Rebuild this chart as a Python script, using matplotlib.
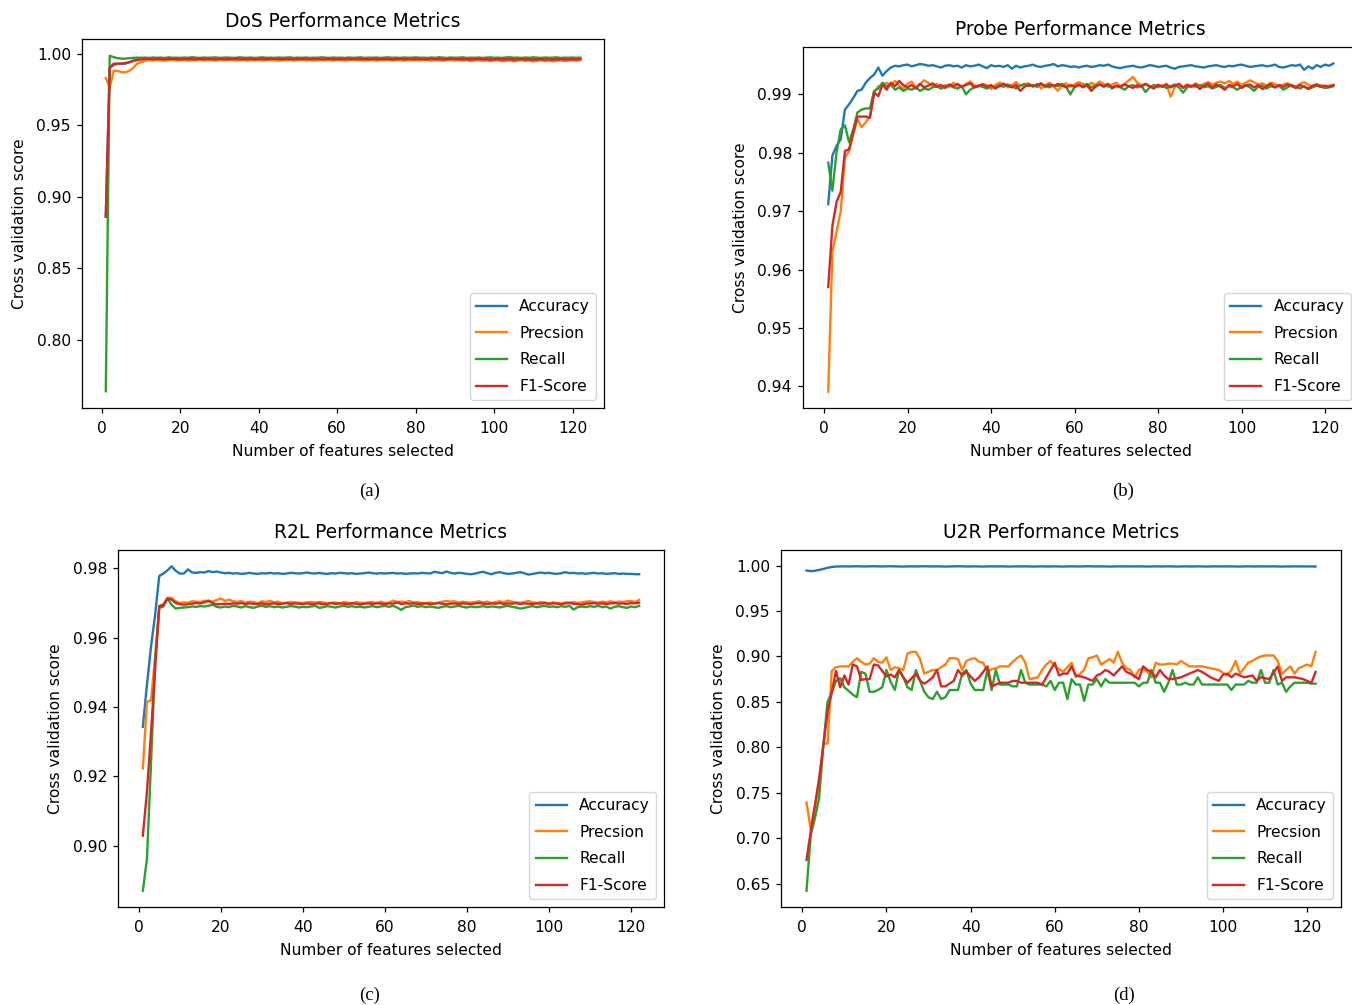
import matplotlib.pyplot as plt
from matplotlib.ticker import MultipleLocator

# --- data: number of features selected vs cross validation score ---
features = list(range(1, 123))
metric_names = ["Accuracy", "Precsion", "Recall", "F1-Score"]
panel_titles = ["DoS Performance Metrics", "Probe Performance Metrics",
                "R2L Performance Metrics", "U2R Performance Metrics"]
panel_tags = ["(a)", "(b)", "(c)", "(d)"]

# DoS
dos_accuracy = [0.886, 0.990, 0.992, 0.993, 0.993, 0.993, 0.994, 0.995, 0.9958, 0.9962,
                0.9964, 0.9966, 0.9965, 0.9967, 0.9966, 0.9965, 0.9967, 0.9966, 0.9968, 0.9966,
                0.9965, 0.9966, 0.9967, 0.9966, 0.9965, 0.9966, 0.9967, 0.9968, 0.9966, 0.9965,
                0.9966, 0.9967, 0.9966, 0.9965, 0.9966, 0.9967, 0.9966, 0.9966, 0.9965, 0.9967,
                0.9966, 0.9965, 0.9966, 0.9967, 0.9966, 0.9965, 0.9966, 0.9967, 0.9966, 0.9965,
                0.9966, 0.9967, 0.9965, 0.9966, 0.9967, 0.9966, 0.9965, 0.9966, 0.9967, 0.9966,
                0.9965, 0.9966, 0.9967, 0.9966, 0.9965, 0.9966, 0.9966, 0.9967, 0.9966, 0.9965,
                0.9966, 0.9967, 0.9966, 0.9965, 0.9966, 0.9967, 0.9966, 0.9965, 0.9966, 0.9967,
                0.9966, 0.9965, 0.9966, 0.9966, 0.9967, 0.9965, 0.9966, 0.9967, 0.9966, 0.9965,
                0.9966, 0.9967, 0.9966, 0.9964, 0.9965, 0.9966, 0.9967, 0.9965, 0.9966, 0.9964,
                0.9965, 0.9966, 0.9965, 0.9964, 0.9966, 0.9965, 0.9966, 0.9964, 0.9965, 0.9966,
                0.9965, 0.9964, 0.9966, 0.9965, 0.9964, 0.9966, 0.9965, 0.9964, 0.9966, 0.9965,
                0.9966, 0.9966]
dos_precision = [0.983, 0.976, 0.988, 0.988, 0.987, 0.987, 0.988, 0.990, 0.993, 0.994,
                 0.9950, 0.9955, 0.9952, 0.9956, 0.9953, 0.9950, 0.9955, 0.9957, 0.9952, 0.9954,
                 0.9956, 0.9951, 0.9955, 0.9953, 0.9957, 0.9952, 0.9955, 0.9954, 0.9951, 0.9956,
                 0.9953, 0.9955, 0.9957, 0.9952, 0.9954, 0.9956, 0.9951, 0.9955, 0.9953, 0.9956,
                 0.9952, 0.9955, 0.9957, 0.9953, 0.9951, 0.9955, 0.9954, 0.9956, 0.9952, 0.9955,
                 0.9957, 0.9953, 0.9955, 0.9951, 0.9954, 0.9956, 0.9953, 0.9955, 0.9952, 0.9956,
                 0.9954, 0.9951, 0.9955, 0.9957, 0.9953, 0.9955, 0.9952, 0.9954, 0.9956, 0.9951,
                 0.9955, 0.9953, 0.9956, 0.9952, 0.9954, 0.9955, 0.9951, 0.9956, 0.9953, 0.9955,
                 0.9952, 0.9956, 0.9954, 0.9951, 0.9955, 0.9953, 0.9950, 0.9954, 0.9956, 0.9952,
                 0.9955, 0.9951, 0.9954, 0.9948, 0.9952, 0.9955, 0.9950, 0.9953, 0.9947, 0.9952,
                 0.9954, 0.9946, 0.9950, 0.9953, 0.9945, 0.9951, 0.9954, 0.9949, 0.9952, 0.9944,
                 0.9950, 0.9953, 0.9947, 0.9951, 0.9945, 0.9950, 0.9953, 0.9948, 0.9951, 0.9953,
                 0.9950, 0.9955]
dos_recall = [0.764, 0.9985, 0.9975, 0.9968, 0.9965, 0.9965, 0.9968, 0.9970, 0.9972, 0.9971,
              0.9972, 0.9970, 0.9973, 0.9971, 0.9972, 0.9970, 0.9974, 0.9971, 0.9972, 0.9970,
              0.9973, 0.9971, 0.9975, 0.9972, 0.9970, 0.9973, 0.9971, 0.9972, 0.9974, 0.9970,
              0.9972, 0.9973, 0.9971, 0.9970, 0.9974, 0.9972, 0.9971, 0.9973, 0.9970, 0.9972,
              0.9974, 0.9971, 0.9972, 0.9970, 0.9973, 0.9971, 0.9972, 0.9974, 0.9970, 0.9972,
              0.9971, 0.9973, 0.9970, 0.9972, 0.9971, 0.9974, 0.9972, 0.9970, 0.9973, 0.9971,
              0.9972, 0.9970, 0.9973, 0.9971, 0.9972, 0.9974, 0.9970, 0.9972, 0.9971, 0.9973,
              0.9970, 0.9972, 0.9974, 0.9971, 0.9972, 0.9970, 0.9973, 0.9971, 0.9972, 0.9974,
              0.9971, 0.9972, 0.9970, 0.9973, 0.9971, 0.9975, 0.9972, 0.9970, 0.9973, 0.9971,
              0.9972, 0.9974, 0.9970, 0.9972, 0.9971, 0.9973, 0.9970, 0.9972, 0.9974, 0.9971,
              0.9972, 0.9970, 0.9973, 0.9975, 0.9971, 0.9972, 0.9970, 0.9973, 0.9971, 0.9974,
              0.9972, 0.9970, 0.9973, 0.9971, 0.9972, 0.9974, 0.9970, 0.9972, 0.9971, 0.9973,
              0.9971, 0.9972]
dos_f1 = [0.886, 0.990, 0.993, 0.993, 0.993, 0.9935, 0.994, 0.995, 0.9955, 0.996,
          0.9962, 0.9963, 0.9961, 0.9964, 0.9962, 0.9961, 0.9963, 0.9964, 0.9962, 0.9960,
          0.9962, 0.9963, 0.9961, 0.9962, 0.9964, 0.9961, 0.9963, 0.9962, 0.9960, 0.9963,
          0.9962, 0.9961, 0.9963, 0.9964, 0.9962, 0.9961, 0.9963, 0.9962, 0.9960, 0.9962,
          0.9963, 0.9961, 0.9962, 0.9964, 0.9962, 0.9960, 0.9963, 0.9962, 0.9961, 0.9963,
          0.9962, 0.9964, 0.9961, 0.9962, 0.9963, 0.9961, 0.9962, 0.9964, 0.9962, 0.9960,
          0.9962, 0.9963, 0.9961, 0.9962, 0.9963, 0.9961, 0.9962, 0.9960, 0.9963, 0.9962,
          0.9961, 0.9963, 0.9962, 0.9960, 0.9962, 0.9963, 0.9961, 0.9962, 0.9963, 0.9961,
          0.9962, 0.9960, 0.9962, 0.9963, 0.9961, 0.9962, 0.9960, 0.9961, 0.9963, 0.9962,
          0.9960, 0.9961, 0.9962, 0.9959, 0.9961, 0.9962, 0.9960, 0.9961, 0.9958, 0.9960,
          0.9961, 0.9958, 0.9960, 0.9961, 0.9957, 0.9960, 0.9961, 0.9959, 0.9960, 0.9957,
          0.9959, 0.9961, 0.9958, 0.9960, 0.9957, 0.9959, 0.9961, 0.9958, 0.9960, 0.9961,
          0.9959, 0.9961]

# Probe
probe_accuracy = [0.9712, 0.9795, 0.9812, 0.9823, 0.9874, 0.9883, 0.9894, 0.9906, 0.9908, 0.9920,
                  0.9928, 0.9934, 0.9946, 0.9932, 0.9940, 0.9946, 0.9949, 0.9948, 0.9950, 0.9951,
                  0.9948, 0.9950, 0.9952, 0.9951, 0.9949, 0.9950, 0.9948, 0.9946, 0.9949, 0.9950,
                  0.9948, 0.9949, 0.9946, 0.9950, 0.9948, 0.9949, 0.9951, 0.9948, 0.9945, 0.9950,
                  0.9948, 0.9949, 0.9947, 0.9950, 0.9944, 0.9949, 0.9946, 0.9948, 0.9949, 0.9951,
                  0.9948, 0.9947, 0.9949, 0.9950, 0.9952, 0.9948, 0.9950, 0.9949, 0.9947, 0.9948,
                  0.9946, 0.9948, 0.9949, 0.9947, 0.9948, 0.9950, 0.9949, 0.9951, 0.9948, 0.9946,
                  0.9945, 0.9947, 0.9948, 0.9949, 0.9947, 0.9946, 0.9948, 0.9950, 0.9949, 0.9947,
                  0.9948, 0.9949, 0.9946, 0.9944, 0.9947, 0.9948, 0.9949, 0.9950, 0.9948, 0.9947,
                  0.9946, 0.9948, 0.9949, 0.9950, 0.9948, 0.9947, 0.9949, 0.9948, 0.9950, 0.9951,
                  0.9949, 0.9947, 0.9948, 0.9949, 0.9950, 0.9948, 0.9949, 0.9951, 0.9947, 0.9946,
                  0.9948, 0.9950, 0.9949, 0.9951, 0.9942, 0.9948, 0.9944, 0.9950, 0.9947, 0.9951,
                  0.9949, 0.9953]
probe_precision = [0.9391, 0.9630, 0.9665, 0.9700, 0.9792, 0.9803, 0.9832, 0.9857, 0.9844, 0.9852,
                   0.9863, 0.9903, 0.9914, 0.9914, 0.9920, 0.9916, 0.9923, 0.9915, 0.9910, 0.9918,
                   0.9922, 0.9912, 0.9918, 0.9924, 0.9920, 0.9914, 0.9918, 0.9910, 0.9916, 0.9913,
                   0.9920, 0.9915, 0.9912, 0.9918, 0.9922, 0.9916, 0.9913, 0.9918, 0.9916, 0.9909,
                   0.9916, 0.9920, 0.9918, 0.9912, 0.9916, 0.9921, 0.9914, 0.9917, 0.9919, 0.9913,
                   0.9918, 0.9910, 0.9916, 0.9920, 0.9914, 0.9906, 0.9916, 0.9919, 0.9913, 0.9917,
                   0.9921, 0.9918, 0.9914, 0.9920, 0.9916, 0.9922, 0.9918, 0.9913, 0.9917, 0.9920,
                   0.9914, 0.9918, 0.9924, 0.9930, 0.9920, 0.9916, 0.9918, 0.9913, 0.9911, 0.9917,
                   0.9914, 0.9918, 0.9896, 0.9912, 0.9918, 0.9913, 0.9917, 0.9914, 0.9919, 0.9915,
                   0.9918, 0.9921, 0.9917, 0.9920, 0.9922, 0.9919, 0.9923, 0.9918, 0.9922, 0.9916,
                   0.9920, 0.9924, 0.9921, 0.9917, 0.9919, 0.9915, 0.9920, 0.9918, 0.9914, 0.9917,
                   0.9919, 0.9916, 0.9913, 0.9918, 0.9921, 0.9916, 0.9914, 0.9917, 0.9916, 0.9913,
                   0.9915, 0.9916]
probe_recall = [0.9783, 0.9735, 0.9801, 0.9840, 0.9847, 0.9818, 0.9840, 0.9869, 0.9874, 0.9876,
                0.9876, 0.9906, 0.9910, 0.9920, 0.9914, 0.9917, 0.9908, 0.9912, 0.9906, 0.9910,
                0.9908, 0.9912, 0.9906, 0.9910, 0.9908, 0.9912, 0.9914, 0.9910, 0.9913, 0.9916,
                0.9912, 0.9910, 0.9914, 0.9900, 0.9908, 0.9912, 0.9915, 0.9913, 0.9910, 0.9914,
                0.9912, 0.9916, 0.9913, 0.9917, 0.9914, 0.9910, 0.9915, 0.9918, 0.9914, 0.9916,
                0.9913, 0.9917, 0.9915, 0.9912, 0.9916, 0.9914, 0.9918, 0.9913, 0.9900, 0.9912,
                0.9916, 0.9914, 0.9918, 0.9912, 0.9915, 0.9917, 0.9913, 0.9916, 0.9910, 0.9914,
                0.9912, 0.9908, 0.9914, 0.9916, 0.9912, 0.9915, 0.9904, 0.9912, 0.9916, 0.9913,
                0.9915, 0.9911, 0.9914, 0.9917, 0.9912, 0.9903, 0.9912, 0.9915, 0.9913, 0.9916,
                0.9912, 0.9914, 0.9910, 0.9913, 0.9916, 0.9911, 0.9914, 0.9912, 0.9908, 0.9913,
                0.9916, 0.9912, 0.9906, 0.9913, 0.9915, 0.9910, 0.9914, 0.9912, 0.9915, 0.9908,
                0.9912, 0.9916, 0.9913, 0.9910, 0.9914, 0.9909, 0.9912, 0.9915, 0.9913, 0.9911,
                0.9912, 0.9914]
probe_f1 = [0.9570, 0.9675, 0.9716, 0.9733, 0.9803, 0.9806, 0.9835, 0.9862, 0.9862, 0.9862,
            0.9860, 0.9903, 0.9897, 0.9917, 0.9908, 0.9920, 0.9914, 0.9923, 0.9916, 0.9912,
            0.9916, 0.9910, 0.9918, 0.9912, 0.9915, 0.9919, 0.9913, 0.9916, 0.9911, 0.9917,
            0.9914, 0.9918, 0.9913, 0.9916, 0.9919, 0.9912, 0.9915, 0.9917, 0.9913, 0.9916,
            0.9910, 0.9914, 0.9918, 0.9915, 0.9912, 0.9916, 0.9906, 0.9913, 0.9917, 0.9914,
            0.9916, 0.9919, 0.9913, 0.9917, 0.9914, 0.9918, 0.9915, 0.9912, 0.9916, 0.9913,
            0.9917, 0.9912, 0.9916, 0.9906, 0.9913, 0.9917, 0.9914, 0.9918, 0.9912, 0.9915,
            0.9913, 0.9917, 0.9914, 0.9911, 0.9916, 0.9913, 0.9918, 0.9914, 0.9910, 0.9916,
            0.9913, 0.9917, 0.9912, 0.9915, 0.9918, 0.9911, 0.9916, 0.9913, 0.9917, 0.9909,
            0.9915, 0.9918, 0.9912, 0.9917, 0.9913, 0.9908, 0.9916, 0.9914, 0.9918, 0.9911,
            0.9915, 0.9917, 0.9912, 0.9916, 0.9909, 0.9914, 0.9918, 0.9912, 0.9916, 0.9913,
            0.9917, 0.9914, 0.9911, 0.9916, 0.9913, 0.9910, 0.9915, 0.9917, 0.9913, 0.9915,
            0.9913, 0.9916]

# R2L
r2l_accuracy = [0.9343, 0.9464, 0.9575, 0.9667, 0.9778, 0.9785, 0.9794, 0.9806, 0.9793, 0.9785,
                0.9785, 0.9797, 0.9788, 0.9787, 0.9789, 0.9788, 0.9792, 0.9789, 0.9791, 0.9788,
                0.9786, 0.9787, 0.9785, 0.9786, 0.9784, 0.9785, 0.9787, 0.9785, 0.9784, 0.9786,
                0.9785, 0.9787, 0.9785, 0.9786, 0.9784, 0.9785, 0.9787, 0.9786, 0.9785, 0.9786,
                0.9788, 0.9786, 0.9785, 0.9787, 0.9785, 0.9784, 0.9786, 0.9785, 0.9787, 0.9786,
                0.9785, 0.9786, 0.9784, 0.9785, 0.9786, 0.9788, 0.9786, 0.9785, 0.9786, 0.9785,
                0.9786, 0.9787, 0.9785, 0.9786, 0.9784, 0.9785, 0.9786, 0.9785, 0.9787, 0.9786,
                0.9785, 0.9790, 0.9788, 0.9786, 0.9791, 0.9787, 0.9785, 0.9787, 0.9786, 0.9784,
                0.9783, 0.9785, 0.9788, 0.9790, 0.9786, 0.9783, 0.9787, 0.9789, 0.9786, 0.9784,
                0.9785, 0.9787, 0.9789, 0.9786, 0.9782, 0.9784, 0.9786, 0.9788, 0.9786, 0.9787,
                0.9785, 0.9784, 0.9786, 0.9789, 0.9786, 0.9787, 0.9785, 0.9786, 0.9784, 0.9786,
                0.9787, 0.9785, 0.9786, 0.9784, 0.9785, 0.9786, 0.9784, 0.9785, 0.9784, 0.9784,
                0.9783, 0.9783]
r2l_precision = [0.9223, 0.9415, 0.9420, 0.9546, 0.9691, 0.9697, 0.9715, 0.9715, 0.9705, 0.9700,
                 0.9702, 0.9701, 0.9705, 0.9704, 0.9703, 0.9706, 0.9707, 0.9704, 0.9709, 0.9713,
                 0.9706, 0.9710, 0.9705, 0.9703, 0.9706, 0.9701, 0.9704, 0.9703, 0.9699, 0.9705,
                 0.9703, 0.9706, 0.9702, 0.9704, 0.9699, 0.9701, 0.9703, 0.9702, 0.9701, 0.9700,
                 0.9702, 0.9703, 0.9701, 0.9703, 0.9702, 0.9698, 0.9701, 0.9702, 0.9698, 0.9703,
                 0.9701, 0.9699, 0.9703, 0.9701, 0.9700, 0.9702, 0.9703, 0.9699, 0.9704, 0.9700,
                 0.9701, 0.9707, 0.9703, 0.9704, 0.9702, 0.9706, 0.9701, 0.9703, 0.9700, 0.9699,
                 0.9702, 0.9698, 0.9701, 0.9704, 0.9706, 0.9704, 0.9705, 0.9701, 0.9704, 0.9702,
                 0.9701, 0.9703, 0.9705, 0.9702, 0.9704, 0.9700, 0.9703, 0.9705, 0.9702, 0.9707,
                 0.9704, 0.9702, 0.9701, 0.9703, 0.9706, 0.9702, 0.9700, 0.9703, 0.9701, 0.9699,
                 0.9702, 0.9700, 0.9698, 0.9702, 0.9701, 0.9703, 0.9700, 0.9702, 0.9704, 0.9705,
                 0.9703, 0.9701, 0.9704, 0.9702, 0.9705, 0.9702, 0.9704, 0.9703, 0.9705, 0.9706,
                 0.9703, 0.9709]
r2l_recall = [0.8870, 0.8962, 0.9241, 0.9531, 0.9686, 0.9690, 0.9713, 0.9695, 0.9684, 0.9686,
              0.9687, 0.9688, 0.9690, 0.9689, 0.9691, 0.9690, 0.9692, 0.9695, 0.9689, 0.9687,
              0.9690, 0.9688, 0.9692, 0.9690, 0.9687, 0.9691, 0.9688, 0.9686, 0.9690, 0.9692,
              0.9689, 0.9691, 0.9688, 0.9690, 0.9687, 0.9689, 0.9691, 0.9690, 0.9687, 0.9689,
              0.9688, 0.9690, 0.9692, 0.9686, 0.9688, 0.9691, 0.9689, 0.9687, 0.9690, 0.9692,
              0.9689, 0.9691, 0.9688, 0.9690, 0.9687, 0.9689, 0.9691, 0.9688, 0.9690, 0.9692,
              0.9689, 0.9692, 0.9687, 0.9680, 0.9688, 0.9690, 0.9693, 0.9689, 0.9691, 0.9688,
              0.9690, 0.9688, 0.9686, 0.9689, 0.9691, 0.9688, 0.9690, 0.9692, 0.9689, 0.9687,
              0.9690, 0.9688, 0.9689, 0.9691, 0.9688, 0.9690, 0.9689, 0.9687, 0.9690, 0.9692,
              0.9689, 0.9687, 0.9684, 0.9686, 0.9689, 0.9691, 0.9688, 0.9690, 0.9692, 0.9689,
              0.9690, 0.9688, 0.9691, 0.9689, 0.9692, 0.9681, 0.9688, 0.9690, 0.9688, 0.9691,
              0.9689, 0.9692, 0.9688, 0.9690, 0.9684, 0.9689, 0.9691, 0.9688, 0.9686, 0.9690,
              0.9688, 0.9692]
r2l_f1 = [0.9029, 0.9155, 0.9328, 0.9513, 0.9691, 0.9694, 0.9713, 0.9710, 0.9700, 0.9697,
          0.9695, 0.9697, 0.9698, 0.9700, 0.9699, 0.9702, 0.9706, 0.9700, 0.9696, 0.9697,
          0.9698, 0.9697, 0.9699, 0.9698, 0.9700, 0.9697, 0.9699, 0.9698, 0.9697, 0.9699,
          0.9696, 0.9698, 0.9699, 0.9697, 0.9698, 0.9700, 0.9697, 0.9699, 0.9698, 0.9697,
          0.9699, 0.9697, 0.9698, 0.9699, 0.9696, 0.9698, 0.9700, 0.9697, 0.9699, 0.9698,
          0.9697, 0.9699, 0.9698, 0.9696, 0.9698, 0.9699, 0.9697, 0.9700, 0.9698, 0.9697,
          0.9699, 0.9698, 0.9702, 0.9697, 0.9699, 0.9698, 0.9700, 0.9697, 0.9698, 0.9699,
          0.9697, 0.9698, 0.9700, 0.9698, 0.9696, 0.9698, 0.9699, 0.9697, 0.9699, 0.9698,
          0.9697, 0.9699, 0.9700, 0.9698, 0.9697, 0.9699, 0.9698, 0.9700, 0.9697, 0.9699,
          0.9698, 0.9700, 0.9697, 0.9699, 0.9698, 0.9697, 0.9699, 0.9698, 0.9700, 0.9697,
          0.9699, 0.9698, 0.9697, 0.9699, 0.9700, 0.9698, 0.9697, 0.9695, 0.9698, 0.9699,
          0.9700, 0.9698, 0.9699, 0.9697, 0.9699, 0.9700, 0.9698, 0.9699, 0.9697, 0.9700,
          0.9699, 0.9701]

# U2R
u2r_accuracy = [0.9945, 0.9938, 0.9942, 0.9952, 0.9962, 0.9975, 0.9984, 0.9989, 0.9990, 0.9991,
                0.9990, 0.9991, 0.9992, 0.9991, 0.9990, 0.9991, 0.9992, 0.9991, 0.9990, 0.9991,
                0.9992, 0.9991, 0.9990, 0.9989, 0.9990, 0.9991, 0.9990, 0.9991, 0.9992, 0.9991,
                0.9990, 0.9991, 0.9990, 0.9989, 0.9990, 0.9991, 0.9992, 0.9991, 0.9990, 0.9990,
                0.9991, 0.9990, 0.9989, 0.9990, 0.9991, 0.9990, 0.9991, 0.9990, 0.9989, 0.9990,
                0.9991, 0.9990, 0.9991, 0.9990, 0.9989, 0.9990, 0.9991, 0.9990, 0.9990, 0.9991,
                0.9990, 0.9989, 0.9990, 0.9991, 0.9990, 0.9990, 0.9991, 0.9992, 0.9991, 0.9990,
                0.9991, 0.9990, 0.9989, 0.9990, 0.9991, 0.9990, 0.9991, 0.9990, 0.9990, 0.9991,
                0.9990, 0.9989, 0.9990, 0.9991, 0.9990, 0.9990, 0.9991, 0.9990, 0.9989, 0.9990,
                0.9991, 0.9990, 0.9990, 0.9991, 0.9990, 0.9989, 0.9990, 0.9991, 0.9990, 0.9990,
                0.9991, 0.9990, 0.9990, 0.9989, 0.9990, 0.9991, 0.9990, 0.9990, 0.9991, 0.9990,
                0.9990, 0.9991, 0.9990, 0.9989, 0.9990, 0.9990, 0.9991, 0.9990, 0.9990, 0.9990,
                0.9990, 0.9989]
u2r_precision = [0.739, 0.710, 0.735, 0.760, 0.804, 0.804, 0.884, 0.888, 0.889, 0.889,
                 0.889, 0.894, 0.898, 0.894, 0.891, 0.892, 0.898, 0.894, 0.893, 0.899,
                 0.885, 0.888, 0.887, 0.885, 0.903, 0.905, 0.905, 0.897, 0.881, 0.883,
                 0.885, 0.885, 0.888, 0.891, 0.898, 0.898, 0.897, 0.885, 0.895, 0.897,
                 0.898, 0.894, 0.893, 0.883, 0.886, 0.887, 0.889, 0.889, 0.889, 0.894,
                 0.898, 0.901, 0.893, 0.875, 0.876, 0.877, 0.885, 0.891, 0.895, 0.889,
                 0.886, 0.883, 0.888, 0.893, 0.877, 0.881, 0.885, 0.898, 0.899, 0.901,
                 0.891, 0.894, 0.897, 0.893, 0.905, 0.893, 0.887, 0.885, 0.877, 0.885,
                 0.887, 0.883, 0.877, 0.893, 0.891, 0.891, 0.892, 0.892, 0.891, 0.895,
                 0.892, 0.889, 0.889, 0.889, 0.889, 0.888, 0.887, 0.886, 0.885, 0.882,
                 0.879, 0.885, 0.895, 0.881, 0.887, 0.893, 0.895, 0.898, 0.900, 0.901,
                 0.901, 0.901, 0.895, 0.881, 0.885, 0.889, 0.881, 0.887, 0.889, 0.891,
                 0.889, 0.905]
u2r_recall = [0.642, 0.703, 0.722, 0.744, 0.802, 0.850, 0.860, 0.873, 0.876, 0.866,
              0.862, 0.858, 0.855, 0.883, 0.881, 0.861, 0.861, 0.863, 0.866, 0.885,
              0.872, 0.863, 0.885, 0.877, 0.866, 0.863, 0.885, 0.873, 0.861, 0.855,
              0.853, 0.861, 0.853, 0.855, 0.863, 0.863, 0.863, 0.881, 0.885, 0.870,
              0.863, 0.863, 0.863, 0.885, 0.863, 0.885, 0.869, 0.869, 0.869, 0.867,
              0.867, 0.885, 0.871, 0.869, 0.869, 0.869, 0.869, 0.867, 0.873, 0.863,
              0.871, 0.871, 0.853, 0.875, 0.869, 0.869, 0.851, 0.869, 0.869, 0.875,
              0.867, 0.875, 0.871, 0.871, 0.871, 0.871, 0.871, 0.871, 0.871, 0.867,
              0.871, 0.871, 0.885, 0.871, 0.871, 0.861, 0.871, 0.885, 0.869, 0.869,
              0.871, 0.869, 0.869, 0.877, 0.869, 0.869, 0.869, 0.869, 0.869, 0.869,
              0.869, 0.863, 0.869, 0.869, 0.869, 0.873, 0.871, 0.871, 0.885, 0.871,
              0.871, 0.885, 0.869, 0.871, 0.861, 0.867, 0.871, 0.871, 0.871, 0.871,
              0.870, 0.870]
u2r_f1 = [0.676, 0.707, 0.736, 0.766, 0.802, 0.839, 0.860, 0.884, 0.866, 0.879,
          0.869, 0.891, 0.889, 0.874, 0.875, 0.875, 0.891, 0.890, 0.884, 0.878,
          0.880, 0.877, 0.885, 0.877, 0.871, 0.876, 0.881, 0.873, 0.870, 0.873,
          0.877, 0.885, 0.867, 0.867, 0.870, 0.873, 0.885, 0.879, 0.883, 0.878,
          0.873, 0.877, 0.883, 0.889, 0.867, 0.869, 0.871, 0.871, 0.871, 0.873,
          0.873, 0.871, 0.871, 0.871, 0.871, 0.871, 0.869, 0.877, 0.885, 0.893,
          0.879, 0.881, 0.881, 0.889, 0.879, 0.878, 0.877, 0.875, 0.873, 0.879,
          0.881, 0.885, 0.883, 0.879, 0.884, 0.889, 0.883, 0.881, 0.878, 0.875,
          0.889, 0.885, 0.883, 0.877, 0.885, 0.879, 0.875, 0.875, 0.876, 0.877,
          0.879, 0.881, 0.883, 0.885, 0.883, 0.880, 0.877, 0.875, 0.873, 0.880,
          0.881, 0.877, 0.881, 0.879, 0.877, 0.878, 0.879, 0.873, 0.877, 0.876,
          0.875, 0.882, 0.889, 0.873, 0.877, 0.877, 0.877, 0.876, 0.875, 0.873,
          0.871, 0.883]

panels = [
    [dos_accuracy, dos_precision, dos_recall, dos_f1],
    [probe_accuracy, probe_precision, probe_recall, probe_f1],
    [r2l_accuracy, r2l_precision, r2l_recall, r2l_f1],
    [u2r_accuracy, u2r_precision, u2r_recall, u2r_f1],
]
y_steps = [0.05, 0.01, 0.02, 0.05]

axes_boxes = [
    [0.0607, 0.5940, 0.3861, 0.3672],
    [0.5939, 0.5940, 0.4110, 0.3592],
    [0.0873, 0.0975, 0.4038, 0.3552],
    [0.5777, 0.0975, 0.4142, 0.3552],
]
tag_positions = [(0.273, 0.5114), (0.831, 0.5114), (0.273, 0.0100), (0.831, 0.0100)]

plt.rcParams["font.size"] = 11.2
plt.rcParams["axes.linewidth"] = 0.9
plt.rcParams["xtick.major.size"] = 3.9
plt.rcParams["ytick.major.size"] = 3.9
plt.rcParams["xtick.major.width"] = 0.9
plt.rcParams["ytick.major.width"] = 0.9
plt.rcParams["xtick.major.pad"] = 5.5
plt.rcParams["ytick.major.pad"] = 4.0

fig = plt.figure(figsize=(13.52, 10.05), dpi=100)

for i, series in enumerate(panels):
    ax = fig.add_axes(axes_boxes[i])
    for name, values in zip(metric_names, series):
        ax.plot(features, values, label=name, linewidth=1.7)
    ax.set_title(panel_titles[i], pad=8.5)
    ax.set_xlabel("Number of features selected", labelpad=6)
    ax.set_ylabel("Cross validation score", labelpad=7)
    ax.xaxis.set_major_locator(MultipleLocator(20))
    ax.yaxis.set_major_locator(MultipleLocator(y_steps[i]))
    ax.legend(loc="lower right", labelspacing=0.75)
    fig.text(tag_positions[i][0], tag_positions[i][1], panel_tags[i],
             ha="center", va="center", fontsize=13.5, family="Liberation Serif")

fig.savefig("out.png", dpi=100)
